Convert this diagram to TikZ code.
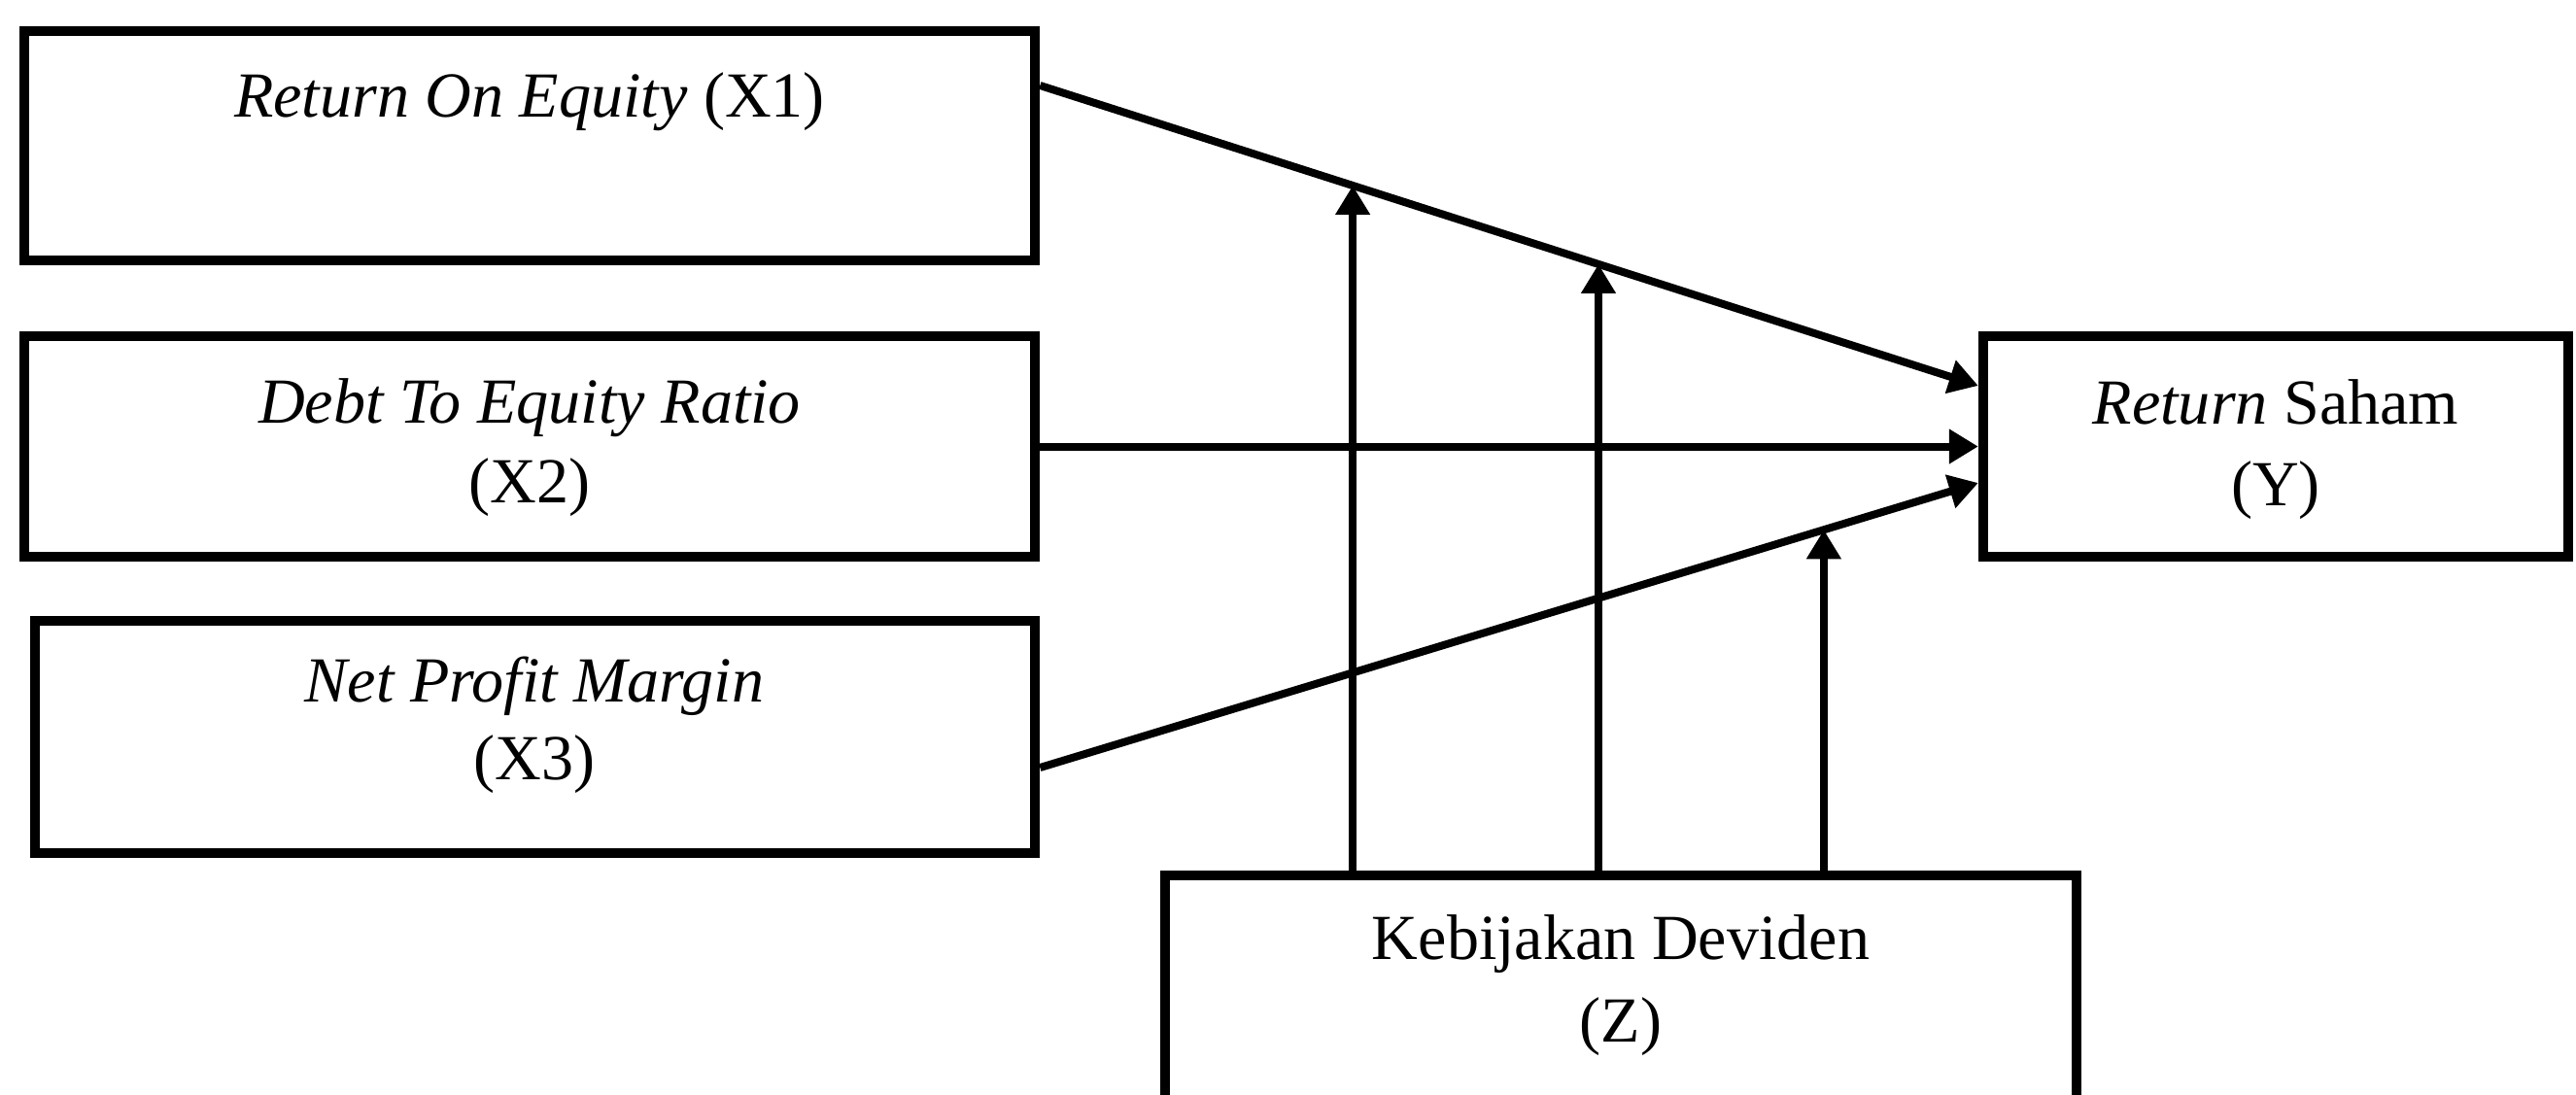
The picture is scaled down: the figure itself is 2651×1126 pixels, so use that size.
\documentclass[tikz,border=0pt]{standalone}
\usepackage{fontspec}
\setmainfont{Liberation Serif}
\usetikzlibrary{arrows.meta,calc}
\begin{document}
\begin{tikzpicture}[x=0.01cm,y=-0.01cm,
  box/.style={draw, line width=0.1cm, inner sep=0pt, fill=none},
  txt/.style={anchor=base, inner sep=0pt, font=\fontsize{18.8pt}{22pt}\selectfont},
  arr/.style={-{Triangle[length=0.30cm,width=0.34cm]}, line width=0.08cm}]
\useasboundingbox (0,0) rectangle (2651,1126);
\clip (0,0) rectangle (2651,1126);
% boxes
\node[box, minimum width=10.40cm, minimum height=2.36cm] (X1) at (545,150) {};
\node[box, minimum width=10.40cm, minimum height=2.27cm] (X2) at (545,459.5) {};
\node[box, minimum width=10.29cm, minimum height=2.39cm] (X3) at (550.5,758.5) {};
\node[box, minimum width=6.02cm, minimum height=2.27cm] (Y) at (2342,459.5) {};
\node[box, minimum width=9.38cm, minimum height=4.0cm] (Z) at (1668,1101) {};
% texts
\node[txt] (tX1) at (545,120) {\textit{Return On Equity} (X1)};
\node[txt] (tX2a) at (545,435) {\textit{Debt To Equity Ratio}};
\node[txt] (tX2b) at (545,517) {(X2)};
\node[txt] (tX3a) at (550,722) {\textit{Net Profit Margin}};
\node[txt] (tX3b) at (550,802) {(X3)};
\node[txt] (tYa) at (2342,436) {\textit{Return} Saham};
\node[txt] (tYb) at (2342,520) {(Y)};
\node[txt] (tZa) at (1668,987) {Kebijakan Deviden};
\node[txt] (tZb) at (1668,1072) {(Z)};
% connector end points
\coordinate (s1) at ([yshift=0.62cm]X1.east);
\coordinate (e1) at ([yshift=0.625cm]Y.west);
\coordinate (s3) at ([yshift=-0.315cm]X3.east);
\coordinate (e3) at ([yshift=-0.375cm]Y.west);
\coordinate (m1) at ($(s1)!0.3333!(e1)$);
\coordinate (m2) at ($(s1)!0.5952!(e1)$);
\coordinate (m3) at ($(s3)!0.8354!(e3)$);
% connectors
\draw[arr] (s1) -- (e1);
\draw[arr] (X2.east) -- (Y.west);
\draw[arr] (s3) -- (e3);
\draw[arr] (Z.north -| m1) -- (m1);
\draw[arr] (Z.north -| m2) -- (m2);
\draw[arr] (Z.north -| m3) -- (m3);
\end{tikzpicture}
\end{document}
